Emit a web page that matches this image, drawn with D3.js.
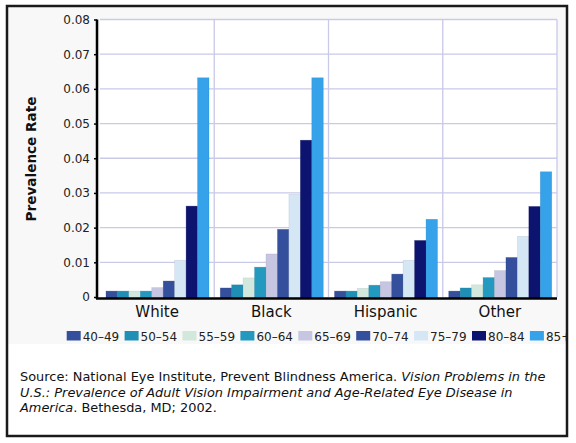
<!DOCTYPE html>
<html>
<head>
<meta charset="utf-8">
<script src="https://cdn.jsdelivr.net/npm/d3@7"></script>
<style>
  html, body { margin: 0; padding: 0; background: #ffffff; }
  svg { display: block; font-family: "DejaVu Sans", Verdana, sans-serif; }
</style>
</head>
<body>
<svg id="chart" width="576" height="443"></svg>
<script>
// ---- data ----
const categories = ["White", "Black", "Hispanic", "Other"];
const ageGroups = ["40–49", "50–54", "55–59", "60–64", "65–69", "70–74", "75–79", "80–84", "85+"];
const whiteValues    = [0.0017, 0.0017, 0.0017, 0.0017, 0.0027, 0.0046, 0.0106, 0.0262, 0.0632];
const blackValues    = [0.0026, 0.0035, 0.0055, 0.0086, 0.0124, 0.0195, 0.0296, 0.0452, 0.0632];
const hispanicValues = [0.0017, 0.0017, 0.0025, 0.0034, 0.0044, 0.0066, 0.0106, 0.0163, 0.0224];
const otherValues    = [0.0017, 0.0026, 0.0035, 0.0056, 0.0076, 0.0114, 0.0175, 0.0261, 0.0361];
const yTicks = [0, 0.01, 0.02, 0.03, 0.04, 0.05, 0.06, 0.07, 0.08];
const yTickLabels = ["0", "0.01", "0.02", "0.03", "0.04", "0.05", "0.06", "0.07", "0.08"];
const colors = ["#34509c", "#1f8fb5", "#d3e8dd", "#2399c0", "#c6c6e2", "#34509c", "#d5e6f5", "#0c1470", "#35a2ea"];
const yTitle = "Prevalence Rate";

const seriesByCategory = [whiteValues, blackValues, hispanicValues, otherValues];
const rows = categories.map((c, i) => ({ category: c, values: seriesByCategory[i] }));

// ---- layout ----
const svg = d3.select("#chart");
const plot = { left: 100, right: 557, top: 19.5, bottom: 297 };

// frame + panel
svg.append("rect").attr("x", 8).attr("y", 7).attr("width", 558).attr("height", 337).attr("fill", "#f8f8f8");
svg.append("rect").attr("x", plot.left).attr("y", plot.top).attr("width", plot.right - plot.left)
  .attr("height", plot.bottom - plot.top).attr("fill", "#ffffff");

const x0 = d3.scaleBand().domain(categories).range([plot.left, plot.right]).paddingInner(0).paddingOuter(0);
const x1 = d3.scaleBand().domain(ageGroups).range([6, 109]).padding(0);
const y = d3.scaleLinear().domain([0, 0.08]).range([plot.bottom, plot.top]);
const color = d3.scaleOrdinal().domain(ageGroups).range(colors);

// gridlines
const gridColor = "#c9c9e8";
svg.append("g").selectAll("line.h").data(yTicks.slice(1)).join("line")
  .attr("x1", plot.left).attr("x2", plot.right)
  .attr("y1", d => y(d)).attr("y2", d => y(d))
  .attr("stroke", gridColor).attr("stroke-width", 1.3);
svg.append("g").selectAll("line.v").data(categories).join("line")
  .attr("x1", d => x0(d) + x0.bandwidth()).attr("x2", d => x0(d) + x0.bandwidth())
  .attr("y1", plot.top).attr("y2", plot.bottom)
  .attr("stroke", gridColor).attr("stroke-width", 1.3);

// bars
const groups = svg.append("g").selectAll("g").data(rows).join("g")
  .attr("transform", d => `translate(${x0(d.category)},0)`);
groups.selectAll("rect").data(d => d.values.map((v, i) => ({ age: ageGroups[i], value: v })))
  .join("rect")
  .attr("x", d => x1(d.age))
  .attr("width", x1.bandwidth())
  .attr("y", d => y(d.value))
  .attr("height", d => y(0) - y(d.value) + 1)
  .attr("fill", d => color(d.age))
  .attr("stroke", d => d3.color(color(d.age)).darker(0.6))
  .attr("stroke-opacity", 0.45)
  .attr("stroke-width", 0.6);

// y axis
const yAxis = d3.axisLeft(y).tickValues(yTicks).tickFormat((d, i) => yTickLabels[i]).tickSize(3).tickPadding(4);
const gy = svg.append("g").attr("transform", `translate(97,0)`).call(yAxis);
gy.select(".domain").attr("d", `M0,${plot.top}V${plot.bottom + 2}`).attr("stroke", "#000").attr("stroke-width", 2.5);
gy.selectAll(".tick line").attr("stroke", "#000").attr("stroke-width", 1.5);
gy.selectAll(".tick text").attr("font-size", 12).attr("fill", "#222")
  .attr("font-family", "DejaVu Sans, Verdana, sans-serif");

// x axis
const xAxis = d3.axisBottom(x0).tickSize(0).tickPadding(8);
const gx = svg.append("g").attr("transform", `translate(0,${plot.bottom + 1.5})`).call(xAxis);
gx.select(".domain").attr("d", `M96,0H${plot.right}`).attr("stroke", "#000").attr("stroke-width", 2.5);
gx.selectAll(".tick text").attr("font-size", 15).attr("fill", "#111")
  .attr("font-family", "DejaVu Sans, Verdana, sans-serif").attr("dy", "0.71em");

// y title
const yt = svg.append("text")
  .attr("transform", "translate(36,159) rotate(-90)")
  .attr("text-anchor", "middle").attr("font-weight", "bold").attr("font-size", 13)
  .attr("fill", "#111").text(yTitle);
const ytl = yt.node().getComputedTextLength();
yt.attr("font-size", 13 * 125 / ytl);

// legend
const legend = svg.append("g").selectAll("g").data(ageGroups).join("g")
  .attr("transform", (d, i) => `translate(${66.7 + i * 57.9},0)`);
legend.append("rect").attr("x", 0).attr("y", 331).attr("width", 14).attr("height", 9.5)
  .attr("fill", d => color(d));
legend.append("text").attr("x", 16).attr("y", 340.5).attr("font-size", 12).attr("fill", "#222").text(d => d);

// clip legend overflow past the frame
svg.append("rect").attr("x", 566).attr("y", 0).attr("width", 10).attr("height", 443).attr("fill", "#fff");

// source text
const sourceLines = [
  [["Source: National Eye Institute, Prevent Blindness America. ", "normal"], ["Vision Problems in the", "italic"]],
  [["U.S.: Prevalence of Adult Vision Impairment and Age-Related Eye Disease in", "italic"]],
  [["America", "italic"], [". Bethesda, MD; 2002.", "normal"]]
];
const src = svg.append("g");
const texts = src.selectAll("text").data(sourceLines).join("text")
  .attr("x", 20).attr("y", (d, i) => 381 + i * 15.5)
  .attr("font-size", 12).attr("fill", "#111");
texts.selectAll("tspan").data(d => d).join("tspan")
  .attr("font-style", d => d[1]).text(d => d[0]);
const l1 = texts.nodes()[0].getComputedTextLength();
texts.attr("font-size", 12 * 526 / l1);

// outer frame
svg.append("rect").attr("x", 7).attr("y", 6).attr("width", 560).attr("height", 430)
  .attr("fill", "none").attr("stroke", "#1a1a1a").attr("stroke-width", 2.5);
</script>
</body>
</html>
